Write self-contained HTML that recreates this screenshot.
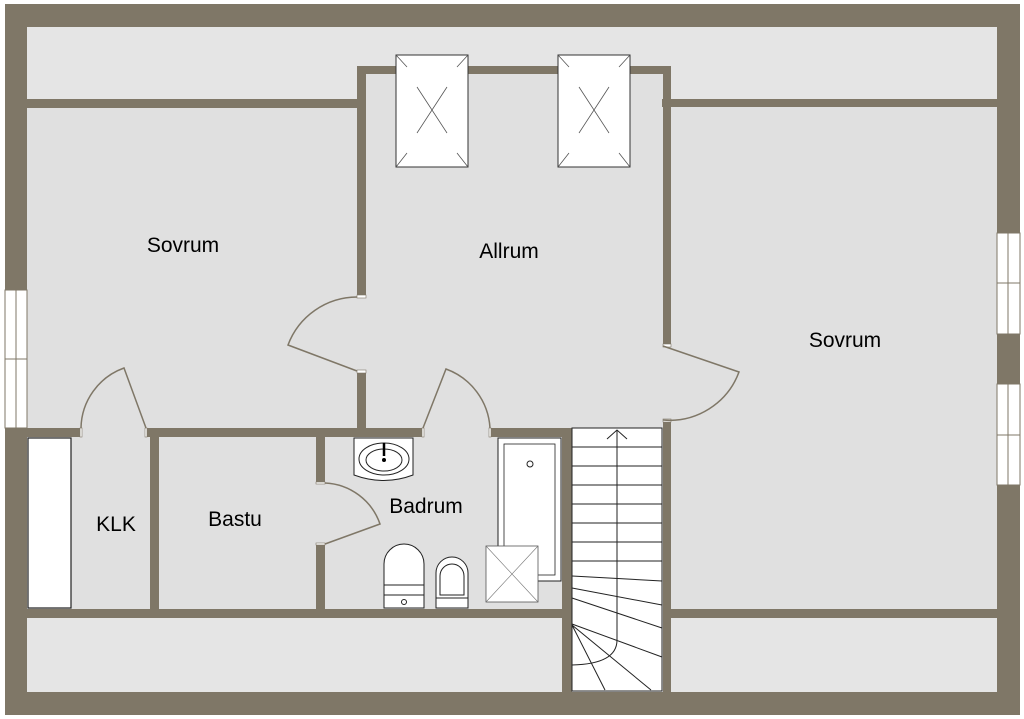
<!DOCTYPE html>
<html><head><meta charset="utf-8"><style>
html,body{margin:0;padding:0;background:#fff;}
svg{display:block;}
text{font-family:"Liberation Sans",sans-serif;font-size:21px;fill:#000;}
</style></head><body>
<svg width="1024" height="719" viewBox="0 0 1024 719" xmlns="http://www.w3.org/2000/svg">
<rect x="0" y="0" width="1024" height="719" fill="#fff"/>
<rect x="5" y="4" width="1015" height="711" fill="#7f7767"/>
<rect x="27" y="27" width="970" height="665" fill="#e5e5e5"/>
<g fill="#e0e0e0">
<rect x="27" y="108" width="330" height="320"/>
<rect x="366" y="74" width="297" height="354"/>
<rect x="671" y="107" width="326" height="502"/>
<rect x="27" y="437" width="535" height="172"/>
<rect x="320" y="360" width="360" height="70"/>
<rect x="355" y="297" width="13" height="74"/>
<rect x="661" y="346" width="12" height="74"/>
<rect x="81" y="426" width="65" height="13"/>
<rect x="423" y="426" width="67" height="13"/>
<rect x="314" y="483" width="13" height="61"/>
</g>
<g fill="#7f7767">
<rect x="27" y="99" width="339" height="9"/>
<rect x="662" y="99" width="335" height="8"/>
<rect x="357" y="66" width="314" height="8"/>
<rect x="357" y="66" width="9" height="231"/>
<rect x="357" y="371" width="9" height="66"/>
<rect x="663" y="66" width="8" height="280"/>
<rect x="663" y="420" width="8" height="272"/>
<rect x="5" y="428" width="76" height="9"/>
<rect x="146" y="428" width="277" height="9"/>
<rect x="490" y="428" width="82" height="9"/>
<rect x="27" y="609" width="545" height="9"/>
<rect x="663" y="609" width="334" height="9"/>
<rect x="150" y="428" width="9" height="190"/>
<rect x="316" y="428" width="9" height="55"/>
<rect x="316" y="544" width="9" height="74"/>
<rect x="562" y="428" width="10" height="264"/>
</g>
<g fill="#fff" stroke="#7f7767" stroke-width="0.6">
<rect x="357" y="295" width="9" height="3"/><rect x="357" y="370" width="9" height="3"/>
<rect x="663" y="344" width="8" height="3"/><rect x="663" y="419" width="8" height="3"/>
<rect x="80" y="428" width="2" height="9"/><rect x="145" y="428" width="2" height="9"/>
<rect x="422" y="428" width="2" height="9"/><rect x="489" y="428" width="2" height="9"/>
<rect x="316" y="482" width="9" height="2"/><rect x="316" y="543" width="9" height="2"/>
</g>
<g fill="none" stroke="#7f7767" stroke-width="1.5">
<path d="M357 371 L288 345 A74 74 0 0 1 357 297"/>
<path d="M663 346 L739 372 A74 74 0 0 1 663 420"/>
<path d="M146 428 L124 368 A65 65 0 0 0 81 428"/>
<path d="M423 428 L446 369 A67 67 0 0 1 490 428"/>
<path d="M325 544 L380 524 A61 61 0 0 0 325 483"/>
</g>
<g fill="#fff" stroke="#7f7767" stroke-width="1">
<rect x="5" y="290" width="22" height="138"/>
<line x1="16" y1="290" x2="16" y2="428"/><line x1="5" y1="359" x2="27" y2="359"/>
<rect x="997" y="233" width="23" height="101"/>
<line x1="1008" y1="233" x2="1008" y2="334"/><line x1="997" y1="283" x2="1020" y2="283"/>
<rect x="997" y="384" width="23" height="101"/>
<line x1="1008" y1="384" x2="1008" y2="485"/><line x1="997" y1="435" x2="1020" y2="435"/>
</g>
<g fill="#fff" stroke="#333" stroke-width="1">
<rect x="396" y="55" width="72" height="112"/>
<rect x="558" y="55" width="72" height="112"/>
</g>
<g stroke="#555" stroke-width="0.8">
<path d="M417 87 L447 133 M447 87 L417 133 M396 55 L407 67 M468 55 L457 67 M396 167 L407 153 M468 167 L457 153"/>
<path d="M579 87 L609 133 M609 87 L579 133 M558 55 L569 67 M630 55 L619 67 M558 167 L569 153 M630 167 L619 153"/>
</g>
<rect x="28" y="438" width="43" height="170" fill="#fff" stroke="#222" stroke-width="1.2"/>
<rect x="572" y="428" width="90" height="263" fill="#fff" stroke="#222" stroke-width="1"/>
<g stroke="#222" stroke-width="1" fill="none">
<path d="M572 447H662M572 466H662M572 485H662M572 504H662M572 523H662M572 542H662M572 561H662"/>
<path d="M572 576L662 581M572 588L662 605M572 598L662 628M572 624L662 657M572 625L651 690M572 625L605 690"/>
<path d="M617 430 V640 Q617 664 572 665"/>
<path d="M607 439 L617 430 L627 439"/>
</g>
<rect x="498" y="438" width="63" height="143" fill="#fff" stroke="#222" stroke-width="1"/>
<rect x="504" y="444" width="51" height="131" fill="#fff" stroke="#222" stroke-width="0.8"/>
<circle cx="530" cy="464" r="3" fill="#fff" stroke="#222"/>
<rect x="486" y="546" width="52" height="56" fill="#fff" stroke="#555" stroke-width="0.8"/>
<path d="M486 546L538 602M538 546L486 602" stroke="#777" stroke-width="0.6"/>
<path d="M354 438 H413 V475 Q384 486 354 475 Z" fill="#fff" stroke="#222" stroke-width="1"/>
<ellipse cx="384" cy="459" rx="25" ry="16" fill="none" stroke="#222"/>
<ellipse cx="384" cy="460" rx="18" ry="11" fill="none" stroke="#222"/>
<line x1="384" y1="443" x2="384" y2="456" stroke="#000" stroke-width="2.5"/>
<circle cx="384" cy="460" r="2" fill="#000"/>
<path d="M384 608 V564 A20 20 0 0 1 424 564 V608 Z" fill="#fff" stroke="#222"/>
<line x1="384" y1="585" x2="424" y2="585" stroke="#222"/><line x1="384" y1="595" x2="424" y2="595" stroke="#222"/>
<circle cx="404" cy="602" r="2.5" fill="#fff" stroke="#222"/>
<path d="M436 608 V573 A16 16 0 0 1 468 573 V608 Z" fill="#fff" stroke="#222"/>
<path d="M440 595 V576 A12 12 0 0 1 464 576 V595 Z" fill="none" stroke="#222"/>
<line x1="436" y1="598" x2="468" y2="598" stroke="#222"/>
<text x="183" y="252" text-anchor="middle">Sovrum</text>
<text x="509" y="258" text-anchor="middle">Allrum</text>
<text x="845" y="347" text-anchor="middle">Sovrum</text>
<text x="116" y="531" text-anchor="middle">KLK</text>
<text x="235" y="526" text-anchor="middle">Bastu</text>
<text x="426" y="513" text-anchor="middle">Badrum</text>
</svg>
</body></html>
